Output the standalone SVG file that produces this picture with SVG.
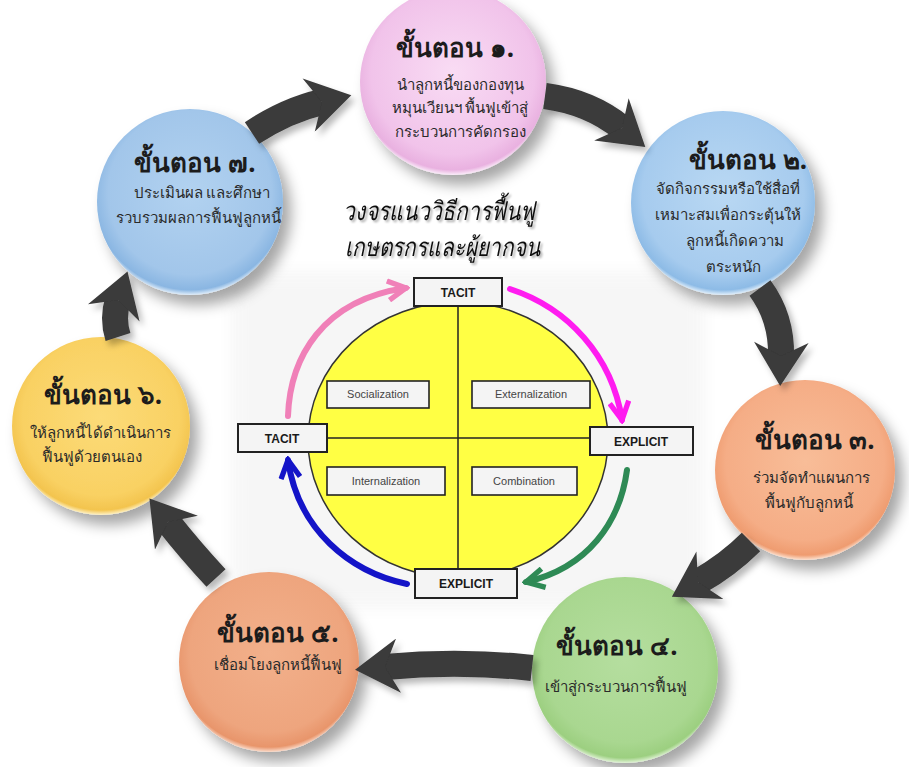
<svg xmlns="http://www.w3.org/2000/svg" width="909" height="767" viewBox="0 0 909 767">
<style>
.ttl{font-family:"Noto Sans","DejaVu Sans",sans-serif;font-size:26px;font-weight:bold;fill:#1c1c1c;text-anchor:middle}
.bd{font-family:"Noto Sans","DejaVu Sans",sans-serif;font-size:15px;fill:#2a2a2a;text-anchor:middle}
.main{font-family:"Noto Sans","DejaVu Sans",sans-serif;font-size:26px;font-style:italic;fill:#111}
.box{fill:#f4f4f4;stroke:#222;stroke-width:2}
.ibox{fill:#f4f4f4;stroke:#222;stroke-width:1.6}
.kt{font-family:"Liberation Sans",Arial,sans-serif;font-size:12px;font-weight:bold;fill:#1a1a1a;text-anchor:middle}
.it{font-family:"Liberation Sans",Arial,sans-serif;font-size:11px;fill:#444;text-anchor:middle}
.band{fill:none;stroke:#3a3a3a;stroke-width:26;marker-end:url(#ah)}
.carc{fill:none;stroke-width:6;stroke-linecap:round}
</style>
<defs>
<filter id="sh" x="-30%" y="-30%" width="170%" height="170%"><feDropShadow dx="8" dy="10" stdDeviation="7" flood-color="#000" flood-opacity="0.35"/></filter>
<filter id="sh2" x="-20%" y="-20%" width="150%" height="150%"><feDropShadow dx="4" dy="5" stdDeviation="3" flood-color="#000" flood-opacity="0.28"/></filter>
<filter id="tsh" x="-10%" y="-30%" width="130%" height="160%"><feDropShadow dx="2" dy="2" stdDeviation="1.2" flood-color="#000" flood-opacity="0.35"/></filter>
<filter id="blur" x="-20%" y="-20%" width="140%" height="140%"><feGaussianBlur stdDeviation="8"/></filter>
<radialGradient id="g1" cx="50%" cy="45%" r="55%"><stop offset="0" stop-color="#f9dcf4"/><stop offset="0.8" stop-color="#f1c3ea"/><stop offset="0.95" stop-color="#e9b1e0"/><stop offset="1" stop-color="#fbeefa"/></radialGradient>
<radialGradient id="g2" cx="50%" cy="45%" r="55%"><stop offset="0" stop-color="#b9d8f3"/><stop offset="0.8" stop-color="#a6cbee"/><stop offset="0.95" stop-color="#8dbbe6"/><stop offset="1" stop-color="#e3f0fb"/></radialGradient>
<radialGradient id="g3" cx="50%" cy="45%" r="55%"><stop offset="0" stop-color="#f8bd98"/><stop offset="0.8" stop-color="#f5ad86"/><stop offset="0.95" stop-color="#ef9c70"/><stop offset="1" stop-color="#fde1cf"/></radialGradient>
<radialGradient id="g4" cx="50%" cy="45%" r="55%"><stop offset="0" stop-color="#b5de9f"/><stop offset="0.8" stop-color="#a9d790"/><stop offset="0.95" stop-color="#9ccf80"/><stop offset="1" stop-color="#e1f3d6"/></radialGradient>
<radialGradient id="g5" cx="50%" cy="45%" r="55%"><stop offset="0" stop-color="#f2b08b"/><stop offset="0.8" stop-color="#eea57e"/><stop offset="0.95" stop-color="#e8956b"/><stop offset="1" stop-color="#fbdccb"/></radialGradient>
<radialGradient id="g6" cx="50%" cy="45%" r="55%"><stop offset="0" stop-color="#fcdb78"/><stop offset="0.8" stop-color="#f9d163"/><stop offset="0.95" stop-color="#f3c44e"/><stop offset="1" stop-color="#fef2c8"/></radialGradient>
<radialGradient id="g7" cx="50%" cy="45%" r="55%"><stop offset="0" stop-color="#b2d2f0"/><stop offset="0.8" stop-color="#a2c6ea"/><stop offset="0.95" stop-color="#8ab6e2"/><stop offset="1" stop-color="#e1eefa"/></radialGradient>
<marker id="ah" viewBox="0 0 8 10" refX="2.5" refY="5" markerWidth="1.7" markerHeight="2.1" orient="auto" markerUnits="strokeWidth"><path d="M0,0 L8,5 L0,10 L2.5,5 z" fill="#3a3a3a"/></marker>
<marker id="cp" viewBox="0 0 10 10" refX="8.5" refY="5" markerWidth="24" markerHeight="24" orient="auto" markerUnits="userSpaceOnUse"><path d="M1,1 L8.5,5 L1,9" fill="none" stroke="#f080b8" stroke-width="2.2"/></marker>
<marker id="cm" viewBox="0 0 10 10" refX="8.5" refY="5" markerWidth="24" markerHeight="24" orient="auto" markerUnits="userSpaceOnUse"><path d="M1,1 L8.5,5 L1,9" fill="none" stroke="#ff1cf0" stroke-width="2.2"/></marker>
<marker id="cg" viewBox="0 0 10 10" refX="8.5" refY="5" markerWidth="24" markerHeight="24" orient="auto" markerUnits="userSpaceOnUse"><path d="M1,1 L8.5,5 L1,9" fill="none" stroke="#2e8a55" stroke-width="2.2"/></marker>
<marker id="cb" viewBox="0 0 10 10" refX="8.5" refY="5" markerWidth="24" markerHeight="24" orient="auto" markerUnits="userSpaceOnUse"><path d="M1,1 L8.5,5 L1,9" fill="none" stroke="#1414c8" stroke-width="2.2"/></marker>
</defs>
<rect width="909" height="767" fill="#ffffff"/>
<rect x="232" y="272" width="472" height="336" rx="30" fill="#ececec" opacity="0.45" filter="url(#blur)"/>

<g id="node1" filter="url(#sh)"><circle cx="453" cy="82" r="93" fill="url(#g1)"/></g>
<g id="node2" filter="url(#sh)"><circle cx="723" cy="203" r="92" fill="url(#g2)"/></g>
<g id="node3" filter="url(#sh)"><circle cx="805" cy="470" r="90" fill="url(#g3)"/></g>
<g id="node4" filter="url(#sh)"><circle cx="625" cy="670" r="93" fill="url(#g4)"/></g>
<g id="node5" filter="url(#sh)"><circle cx="269" cy="662" r="90" fill="url(#g5)"/></g>
<g id="node6" filter="url(#sh)"><circle cx="101" cy="426" r="89" fill="url(#g6)"/></g>
<g id="node7" filter="url(#sh)"><circle cx="190" cy="202" r="93" fill="url(#g7)"/></g>

<g id="connectors" filter="url(#sh2)">
<path class="band" d="M252,133 Q287,110 322,102"/>
<path class="band" d="M545,96 Q590,102 622,128"/>
<path class="band" d="M760,288 Q782,318 781,356"/>
<path class="band" d="M751,542 Q728,565 698,582"/>
<path class="band" d="M532,668 Q460,660 385,667"/>
<path class="band" d="M216,578 Q190,550 168,522"/>
<path class="band" d="M118,337 Q112,318 118,300"/>
</g>

<g id="node1-text"><text class="ttl" x="455" y="57">ขั้นตอน ๑.</text><text class="bd" x="460" y="90" fill="#3a2a3a">นำลูกหนี้ของกองทุน</text><text class="bd" x="460" y="113">หมุนเวียนฯ พื้นฟูเข้าสู่</text><text class="bd" x="460" y="137">กระบวนการคัดกรอง</text></g>
<g id="node2-text"><text class="ttl" x="748" y="169">ขั้นตอน ๒.</text><text class="bd" x="728" y="194">จัดกิจกรรมหรือใช้สื่อที่</text><text class="bd" x="728" y="220">เหมาะสมเพื่อกระตุ้นให้</text><text class="bd" x="735" y="246">ลูกหนี้เกิดความ</text><text class="bd" x="733" y="272">ตระหนัก</text></g>
<g id="node3-text"><text class="ttl" x="815" y="449">ขั้นตอน ๓.</text><text class="bd" x="811" y="483">ร่วมจัดทำแผนการ</text><text class="bd" x="809" y="508">พื้นฟูกับลูกหนี้</text></g>
<g id="node4-text"><text class="ttl" x="617" y="655">ขั้นตอน ๔.</text><text class="bd" x="616" y="692">เข้าสู่กระบวนการฟื้นฟู</text></g>
<g id="node5-text"><text class="ttl" x="278" y="642">ขั้นตอน ๕.</text><text class="bd" x="278" y="670">เชื่อมโยงลูกหนี้ฟื้นฟู</text></g>
<g id="node6-text"><text class="ttl" x="103" y="404">ขั้นตอน ๖.</text><text class="bd" x="100" y="438">ให้ลูกหนี้ได้ดำเนินการ</text><text class="bd" x="92" y="462">ฟื้นฟูด้วยตนเอง</text></g>
<g id="node7-text"><text class="ttl" x="195" y="172">ขั้นตอน ๗.</text><text class="bd" x="202" y="198">ประเมินผล และศึกษา</text><text class="bd" x="198" y="223">รวบรวมผลการฟื้นฟูลูกหนี้</text></g>

<g id="title" filter="url(#tsh)"><text class="main" x="343" y="220" textLength="192" lengthAdjust="spacingAndGlyphs">วงจรแนววิธีการฟื้นฟู</text><text class="main" x="345" y="256" textLength="195" lengthAdjust="spacingAndGlyphs">เกษตรกรและผู้ยากจน</text></g>

<g id="seci">
<ellipse cx="458" cy="440" rx="150" ry="138" fill="#ffff44" stroke="#333" stroke-width="1.5"/>
<line x1="458" y1="300" x2="458" y2="578" stroke="#222" stroke-width="1.5"/>
<line x1="308" y1="438" x2="608" y2="438" stroke="#222" stroke-width="1.5"/>
</g>
<g id="arcs">
<path class="carc" stroke="#f080b8" d="M288,416 C290,358 322,300 406,288" marker-end="url(#cp)"/>
<path class="carc" stroke="#ff1cf0" d="M510,289 C568,308 612,356 622,420" marker-end="url(#cm)"/>
<path class="carc" stroke="#2e8a55" d="M627,470 C620,522 588,568 526,582" marker-end="url(#cg)"/>
<path class="carc" stroke="#1414c8" d="M407,584 C350,572 298,530 288,460" marker-end="url(#cb)"/>
</g>
<g id="k-tacit-top"><rect class="box" x="414" y="278" width="88" height="28"/><text class="kt" x="458" y="297">TACIT</text></g>
<g id="k-tacit-left"><rect class="box" x="238" y="424" width="89" height="28"/><text class="kt" x="282" y="443">TACIT</text></g>
<g id="k-explicit-right"><rect class="box" x="590" y="427" width="103" height="28"/><text class="kt" x="641" y="446">EXPLICIT</text></g>
<g id="k-explicit-bottom"><rect class="box" x="415" y="569" width="102" height="29"/><text class="kt" x="466" y="588">EXPLICIT</text></g>
<g id="k-soc"><rect class="ibox" x="327" y="381" width="102" height="27"/><text class="it" x="378" y="398">Socialization</text></g>
<g id="k-ext"><rect class="ibox" x="472" y="381" width="118" height="27"/><text class="it" x="531" y="398">Externalization</text></g>
<g id="k-int"><rect class="ibox" x="327" y="467" width="118" height="28"/><text class="it" x="386" y="485">Internalization</text></g>
<g id="k-com"><rect class="ibox" x="472" y="467" width="105" height="28"/><text class="it" x="524" y="485">Combination</text></g>
</svg>
